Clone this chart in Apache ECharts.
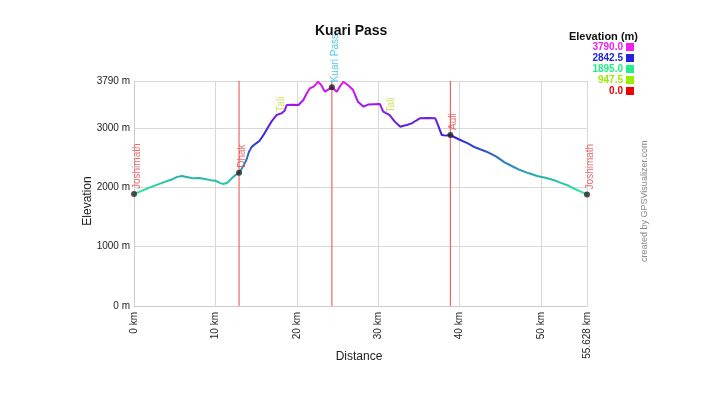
<!DOCTYPE html>
<html><head><meta charset="utf-8">
<script src="https://cdn.jsdelivr.net/npm/echarts@6/dist/echarts.min.js"></script>
<style>html,body{margin:0;padding:0;background:#fff}#c{width:709px;height:399px}</style>
</head><body><div id="c"></div>
<script>
var distanceKm = [0,0.8,1.8,2.8,3.8,4.6,5.3,5.9,6.6,7.3,8.0,8.7,9.4,10.0,10.6,11.0,11.5,12.0,12.5,12.9,13.3,13.8,14.1,14.45,15.0,15.4,15.9,16.5,16.9,17.5,18.1,18.5,18.75,19.5,20.2,20.8,21.2,21.6,22.1,22.6,23.0,23.45,23.8,24.3,24.9,25.3,25.7,26.1,26.5,26.9,27.5,28.2,28.8,29.5,30.2,30.6,31.4,32.0,32.7,33.2,33.5,34.1,34.6,35.1,36.0,37.0,37.3,37.8,38.3,38.8,40.0,41.0,41.7,42.5,43.3,44.5,45.5,46.5,47.4,48.5,49.5,50.5,51.5,52.5,53.3,53.95,54.8,55.628];
var elevationM = [1886,1930,1990,2040,2090,2130,2175,2190,2170,2150,2155,2140,2120,2110,2070,2055,2080,2150,2210,2245,2330,2460,2590,2680,2740,2780,2880,3020,3110,3217,3245,3290,3385,3390,3385,3470,3580,3667,3700,3778,3720,3610,3640,3683,3610,3700,3778,3740,3694,3638,3442,3358,3395,3400,3402,3273,3217,3110,3020,3040,3049,3077,3120,3161,3165,3161,3060,2880,2870,2880,2800,2740,2683,2640,2599,2515,2420,2350,2290,2235,2190,2160,2122,2070,2030,1983,1930,1880];
var waypointNames = ['Joshimath','Dhak','Tali','Kuari Pass','Tali','Auli','Joshimath'];
var waypointKm = [0,12.9,17.7,24.3,31.2,38.85,55.628];
var waypointM = [1886,2245,3240,3683,3225,2880,1880];
var waypointColors = ['#ee4444','#ee4444','#bbdd33','#22bbdd','#bbdd33','#ee4444','#ee4444'];
var waypointDot = [true,true,false,true,false,true,true];
var redLineKm = [12.9,24.3,38.85];
var yTicks = [0,1000,2000,3000,3790];
var xTicks = [0,10,20,30,40,50,55.628];
var legendValues = ['3790.0','2842.5','1895.0','947.5','0.0'];
var legendColors = ['#ee22ee','#2222dd','#22ee88','#99ee00','#ee0000'];

var FONT = '"Liberation Sans", Arial, sans-serif';
var lineData = distanceKm.map(function(d,i){return [d, elevationM[i]];});
var wpData = waypointNames.map(function(n,i){
  return {value:[waypointKm[i], waypointM[i]], name:n,
    symbolSize: waypointDot[i] ? 6 : 0,
    label:{color: waypointColors[i]}};
});
var redLineData = [];
redLineKm.forEach(function(k){
  redLineData.push([k, yTicks[0]], [k, yTicks[yTicks.length-1]], '-');
});

var graphics = [{
  type:'text', x: 638, y: 31,
  style:{text:'Elevation (m)', font:'bold 11px ' + FONT, fill:'#111', align:'right', verticalAlign:'top'}
}];
legendValues.forEach(function(v,i){
  graphics.push({type:'text', x: 623, y: 47 + i*11,
    style:{text:v, font:'bold 10px ' + FONT, fill:legendColors[i], align:'right', verticalAlign:'middle'}});
  graphics.push({type:'rect', shape:{x:626, y:43 + i*11, width:8, height:8}, style:{fill:legendColors[i]}});
});
graphics.push({type:'text', x: 640, y: 262, rotation: Math.PI/2,
  style:{text:'created by GPSVisualizer.com', font:'9px ' + FONT, fill:'#888'}});
graphics.push({type:'text', x: 88, y: 201, rotation: Math.PI/2,
  style:{text:'Elevation', font:'12px ' + FONT, fill:'#222', align:'center', verticalAlign:'middle'}});
graphics.push({type:'text', x: 359, y: 357,
  style:{text:'Distance', font:'12px ' + FONT, fill:'#222', align:'center', verticalAlign:'middle'}});

var chart = echarts.init(document.getElementById('c'));
chart.setOption({
  animation:false,
  backgroundColor:'#fff',
  title:{text:'Kuari Pass', left:310, top:19, textStyle:{fontFamily:FONT, fontSize:14, fontWeight:'bold', color:'#111'}},
  grid:{left:134, right:122, top:81, bottom:93},
  xAxis:{type:'value', min:0, max:55.628, interval:10,
    axisLine:{show:true, lineStyle:{color:'#ccc'}}, axisTick:{show:false},
    axisLabel:{rotate:90, fontSize:10, color:'#222', fontFamily:FONT, margin:6,
      showMaxLabel:true, formatter:function(v){return v + ' km';}},
    splitLine:{show:true, lineStyle:{color:'#d8d8d8'}}},
  yAxis:{type:'value', min:0, max:3790, interval:1000,
    axisLine:{show:true, lineStyle:{color:'#ccc'}}, axisTick:{show:false},
    axisLabel:{fontSize:10, color:'#222', fontFamily:FONT, margin:4,
      showMaxLabel:true, formatter:function(v){return v + ' m';}},
    splitLine:{show:true, lineStyle:{color:'#d8d8d8'}}},
  visualMap:{show:false, type:'continuous', dimension:1, seriesIndex:0, min:0, max:3790,
    inRange:{color:['#ee0000','#99ee00','#22ee99','#3322dd','#ee11ee']}},
  graphic: graphics,
  series:[
    {type:'line', data:lineData, showSymbol:false, lineStyle:{width:2}, z:3},
    {type:'line', data:redLineData, showSymbol:false, connectNulls:false, silent:true, z:2,
     lineStyle:{color:'#ee6666', width:1.2}, itemStyle:{color:'#ee6666'}},
    {type:'scatter', data:wpData, symbol:'circle', itemStyle:{color:'#222'}, z:5,
     label:{show:true, formatter:'{b}', rotate:90, position:'top', align:'left', verticalAlign:'middle',
       distance:2, offset:[0,3], fontSize:10, fontFamily:FONT}}
  ]
});
</script></body></html>
